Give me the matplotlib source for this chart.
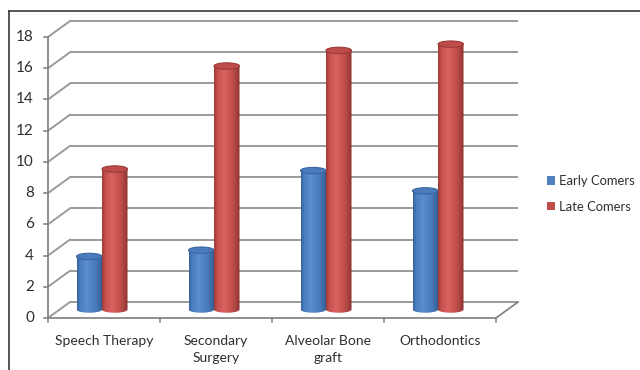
import numpy as np
import matplotlib
matplotlib.use("Agg")
import matplotlib.pyplot as plt
from matplotlib.patches import Ellipse, PathPatch, Patch
from matplotlib.path import Path
from matplotlib.colors import LinearSegmentedColormap
from matplotlib.lines import Line2D

# ---- data ----
categories = ["Speech Therapy", "Secondary\nSurgery", "Alveolar Bone\ngraft", "Orthodontics"]
early_comers = [3.4, 3.8, 8.9, 7.6]
late_comers = [9.0, 15.6, 16.6, 17.0]
series_names = ["Early Comers", "Late Comers"]
y_ticks = list(range(0, 20, 2))

plt.rcParams['font.family'] = ['Lato', 'DejaVu Sans']

# ---- geometry (pixel layout of the pseudo-3D frame) ----
W, H = 640, 370
px_per_cat = 112.0      # horizontal pixels per category slot
px_per_val = 15.61      # vertical pixels per value unit
x_left_px = 48.0        # front value axis position
y0_px = 318.0           # front baseline position (from top)

depth_dx = 22.0 / px_per_cat    # back wall offset, category units
depth_dy = 16.0 / px_per_val    # back wall offset, value units

fig = plt.figure(figsize=(6.4, 3.7), dpi=100)
ax = fig.add_axes([0, 0, 1, 1])
ax.axis('off')

xlim = (-0.5 - x_left_px / px_per_cat, -0.5 + (W - x_left_px) / px_per_cat)
ylim = (-(H - y0_px) / px_per_val, y0_px / px_per_val)

n = len(categories)
xl, xr = -0.5, n - 0.5
grid_c = '#9a9a9a'
axis_c = '#868686'
text_c = '#2e2e2e'

# back wall gridlines and side wall diagonals
for v in y_ticks:
    ax.plot([xl + depth_dx, xr + depth_dx], [v + depth_dy, v + depth_dy],
            color=grid_c, lw=1.4, solid_capstyle='butt', zorder=1)
    ax.plot([xl, xl + depth_dx], [v, v + depth_dy], color=grid_c, lw=1.4, zorder=1)
    # value tick marks and labels
    ax.plot([xl - 4 / px_per_cat, xl], [v, v], color=axis_c, lw=1.2, zorder=2)
    ax.text(xl - 14 / px_per_cat, v, str(v), ha='right', va='center',
            fontsize=11, color=text_c)

# floor edges and front axes
ax.plot([xl, xr], [0, 0], color=axis_c, lw=1.3, zorder=2)
ax.plot([xr, xr + depth_dx], [0, depth_dy], color=axis_c, lw=1.3, zorder=2)
ax.plot([xl, xl], [0, y_ticks[-1]], color=axis_c, lw=1.3, zorder=2)
for b in np.arange(n + 1) - 0.5:
    ax.plot([b, b], [0, -4 / px_per_val], color=axis_c, lw=1.2, zorder=2)

# category labels
for i, cat in enumerate(categories):
    ax.text(i, -17 / px_per_val, cat, ha='center', va='top', fontsize=10,
            color=text_c, linespacing=1.45)

# ---- cylinders ----
red_cmap = LinearSegmentedColormap.from_list(
    'red_cyl', [(0.0, '#9a3a37'), (0.12, '#c4504d'), (0.38, '#d9635f'),
                (0.7, '#c24f4c'), (0.9, '#a13f3c'), (1.0, '#862f2d')])
blue_cmap = LinearSegmentedColormap.from_list(
    'blue_cyl', [(0.0, '#35619c'), (0.12, '#4a7dbd'), (0.38, '#5a8fd0'),
                 (0.7, '#4a7cbb'), (0.9, '#3b67a2'), (1.0, '#2d5489')])

bar_w = 25.5 / px_per_cat
group_shift = -2.0 / px_per_cat
base = depth_dy / 2.0 + 0.03
eh = 3.2 / px_per_val   # half-height of the cylinder end ellipses


def cylinder(xc, value, cmap, top_face, top_edge, z):
    x0, x1 = xc - bar_w / 2, xc + bar_w / 2
    top = base + value
    th = np.linspace(np.pi, 2 * np.pi, 60)
    verts = [(x0, top), (x0, base)]
    verts += list(zip(xc + bar_w / 2 * np.cos(th), base + eh * np.sin(th)))
    verts += [(x1, base), (x1, top), (x0, top)]
    codes = [Path.MOVETO] + [Path.LINETO] * (len(verts) - 2) + [Path.CLOSEPOLY]
    body = PathPatch(Path(verts, codes), facecolor='none', edgecolor='none', zorder=z)
    ax.add_patch(body)
    grad = np.linspace(0, 1, 256).reshape(1, -1)
    im = ax.imshow(grad, cmap=cmap, aspect='auto', extent=[x0, x1, base - eh, top],
                   origin='lower', zorder=z, interpolation='bilinear')
    im.set_clip_path(body)
    ax.add_patch(Ellipse((xc, top), bar_w, 2 * eh, facecolor=top_face,
                         edgecolor=top_edge, lw=0.8, zorder=z + 0.1))


for i in range(n):
    c = i + group_shift
    cylinder(c - bar_w / 2, early_comers[i], blue_cmap, '#4a7bbb', '#3a659f', 3)
    cylinder(c + bar_w / 2, late_comers[i], red_cmap, '#bf4c49', '#9c3a37', 4)

ax.set_xlim(*xlim)
ax.set_ylim(*ylim)

# legend
handles = [Patch(facecolor='#4f81bd'), Patch(facecolor='#c0504d')]
ax.legend(handles, series_names, loc='center left',
          bbox_to_anchor=(547 / W, 1 - 194 / H), bbox_transform=fig.transFigure,
          frameon=False, handlelength=0.6, handleheight=0.6, handletextpad=0.35,
          labelspacing=1.05, fontsize=9.4, borderaxespad=0, borderpad=0,
          labelcolor=text_c)

# outer chart border (top and left edges visible)
fig.add_artist(Line2D([9 / W, 1], [1 - 11 / H, 1 - 11 / H], color='#3a3a3a', lw=1.2,
                      transform=fig.transFigure))
fig.add_artist(Line2D([9 / W, 9 / W], [0, 1 - 11 / H], color='#3a3a3a', lw=1.2,
                      transform=fig.transFigure))

fig.savefig('out.png', dpi=100)
